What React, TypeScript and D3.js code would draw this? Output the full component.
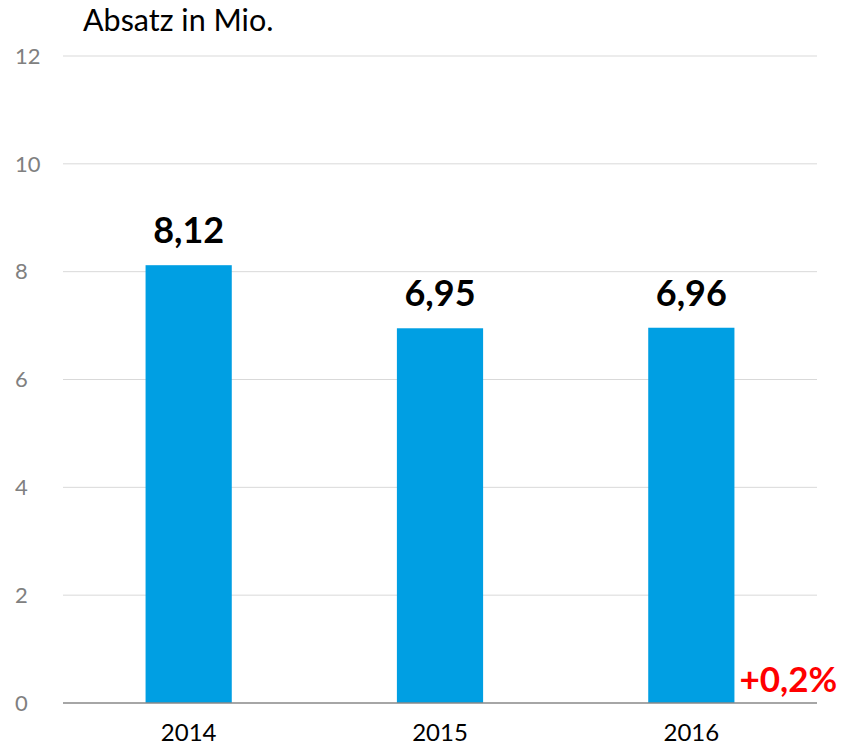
import * as d3 from "d3";

const years = ["2014", "2015", "2016"];
const sales = [8.12, 6.95, 6.96];
const valueLabels = ["8,12", "6,95", "6,96"];
const yTicks = [0, 2, 4, 6, 8, 10, 12];
const changeLabel = "+0,2%";
const title = "Absatz in Mio.";

const W = 846;
const H = 747;
const font = "Lato, 'Open Sans', sans-serif";

export default function App() {
  const x = d3
    .scaleBand<string>()
    .domain(years)
    .range([63, 817])
    .paddingInner(0.657)
    .paddingOuter(0.3285);
  const y = d3.scaleLinear().domain([0, 12]).range([703, 56]);

  const last = years[years.length - 1];

  return (
    <svg
      width={W}
      height={H}
      style={{ position: "absolute", left: 0, top: 0 }}
      fontFamily={font}
    >
      <rect width={W} height={H} fill="#fff" />
      <text x={83} y={31} fontSize={30.5} fill="#000">
        {title}
      </text>
      {yTicks.map((t) => (
        <g key={t}>
          {t > 0 && (
            <line
              x1={63}
              x2={817}
              y1={y(t)}
              y2={y(t)}
              stroke="#d9d9d9"
              strokeWidth={1}
            />
          )}
          <text
            x={15}
            y={y(t)}
            dy="0.35em"
            fontSize={22}
            fill="#808080"
          >
            {t}
          </text>
        </g>
      ))}
      {years.map((yr, i) => (
        <g key={yr}>
          <rect
            x={x(yr)}
            y={y(sales[i])}
            width={x.bandwidth()}
            height={y(0) - y(sales[i])}
            fill="#009fe3"
          />
          <text
            x={x(yr)! + x.bandwidth() / 2}
            y={y(sales[i]) - 22}
            textAnchor="middle"
            fontSize={36}
            fontWeight="bold"
            fill="#000"
          >
            {valueLabels[i]}
          </text>
          <text
            x={x(yr)! + x.bandwidth() / 2}
            y={741}
            textAnchor="middle"
            fontSize={24}
            fill="#000"
          >
            {yr}
          </text>
        </g>
      ))}
      <line x1={63} x2={817} y1={y(0)} y2={y(0)} stroke="#898989" strokeWidth={1.5} />
      <text
        x={x(last)! + x.bandwidth() + 5}
        y={692}
        fontSize={35}
        fontWeight="bold"
        fill="#ff0000"
      >
        {changeLabel}
      </text>
    </svg>
  );
}
